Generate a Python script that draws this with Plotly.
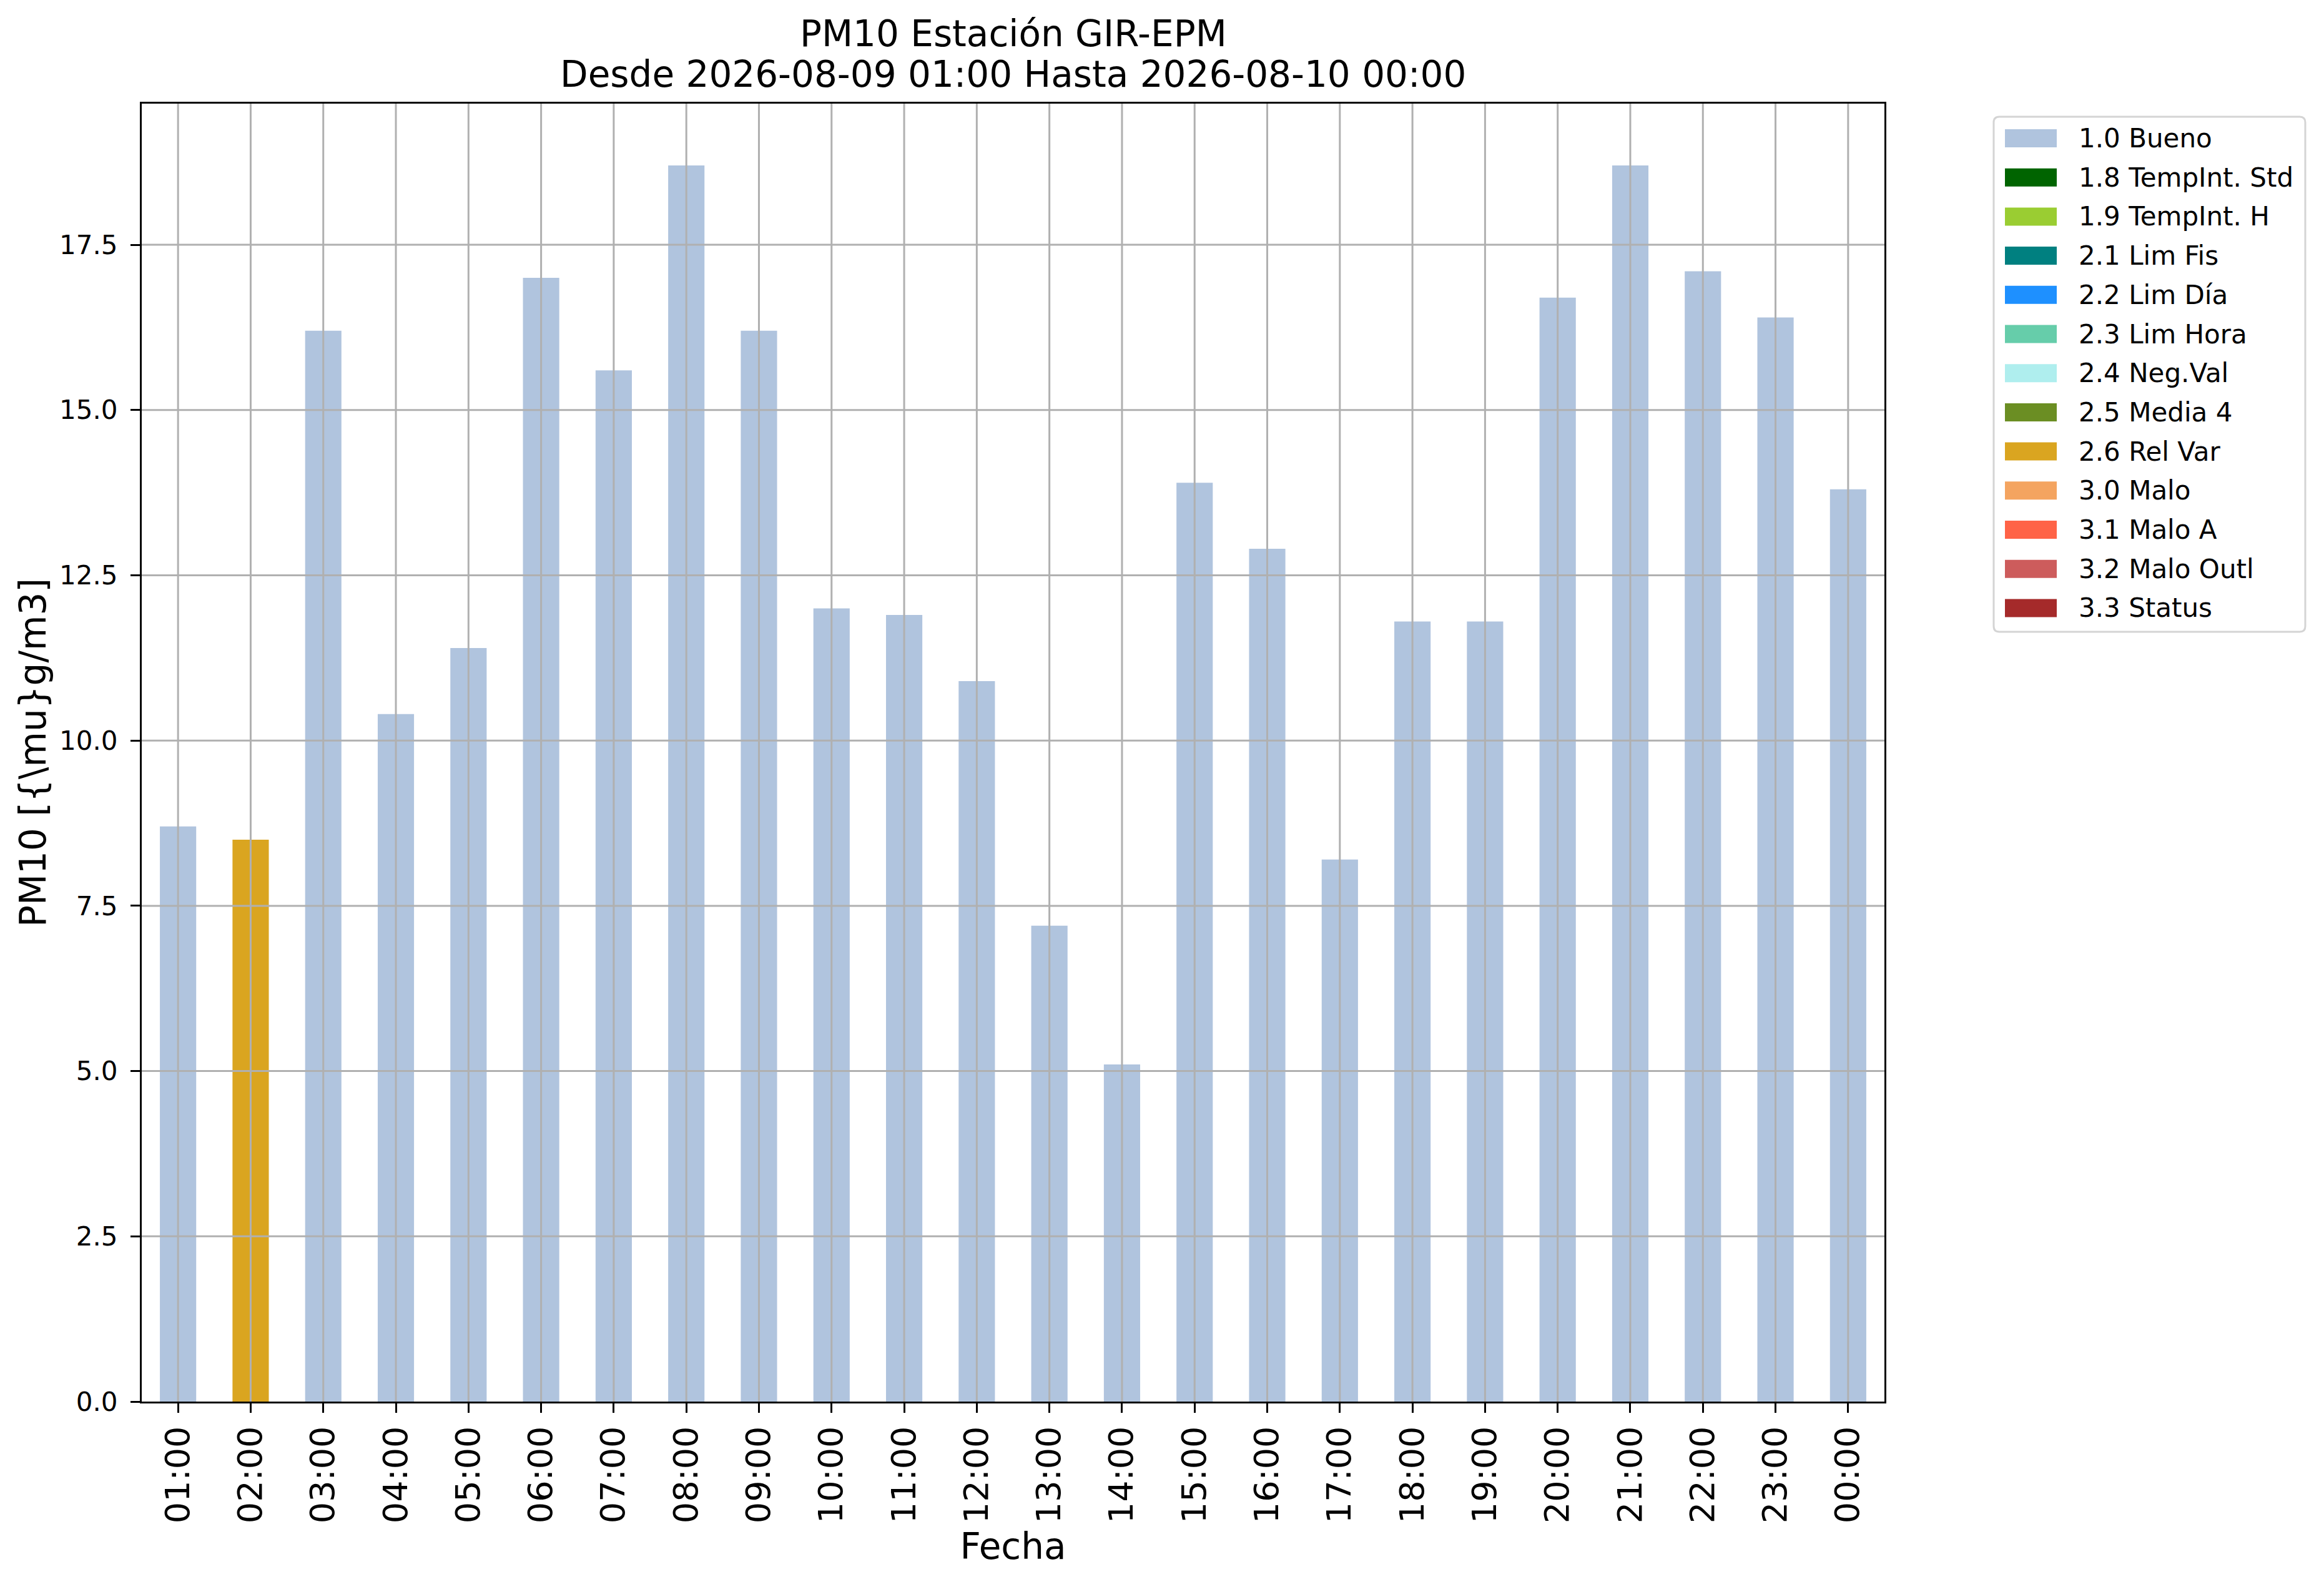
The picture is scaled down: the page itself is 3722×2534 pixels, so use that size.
import plotly.graph_objects as go

# datos PM10 horarios
horas = ["01:00", "02:00", "03:00", "04:00", "05:00", "06:00", "07:00", "08:00",
         "09:00", "10:00", "11:00", "12:00", "13:00", "14:00", "15:00", "16:00",
         "17:00", "18:00", "19:00", "20:00", "21:00", "22:00", "23:00", "00:00"]
pm10 = [8.7, 8.5, 16.2, 10.4, 11.4, 17.0, 15.6, 18.7, 16.2, 12.0, 11.9, 10.9,
        7.2, 5.1, 13.9, 12.9, 8.2, 11.8, 11.8, 16.7, 18.7, 17.1, 16.4, 13.8]
banderas = ["1.0", "2.6", "1.0", "1.0", "1.0", "1.0", "1.0", "1.0",
            "1.0", "1.0", "1.0", "1.0", "1.0", "1.0", "1.0", "1.0",
            "1.0", "1.0", "1.0", "1.0", "1.0", "1.0", "1.0", "1.0"]

# leyenda de banderas de calidad
codigos = ["1.0", "1.8", "1.9", "2.1", "2.2", "2.3", "2.4", "2.5", "2.6",
           "3.0", "3.1", "3.2", "3.3"]
etiquetas = ["1.0 Bueno", "1.8 TempInt. Std", "1.9 TempInt. H", "2.1 Lim Fis",
             "2.2 Lim Día", "2.3 Lim Hora", "2.4 Neg.Val", "2.5 Media 4",
             "2.6 Rel Var", "3.0 Malo", "3.1 Malo A", "3.2 Malo Outl", "3.3 Status"]
colores = ["#B0C4DE", "#006400", "#9ACD32", "#008080", "#1E90FF", "#66CDAA",
           "#AFEEEE", "#6B8E23", "#DAA520", "#F4A460", "#FF6347", "#CD5C5C",
           "#A52A2A"]

y_ticks = [0.0, 2.5, 5.0, 7.5, 10.0, 12.5, 15.0, 17.5]

W, H = 3722, 2534
L, R, T, B = 227, 3018, 166, 2245
FONT = "DejaVu Sans"
GRID = "#b0b0b0"


def px_x(px):
    return (px - L) / (R - L)


def px_y(py):
    return (B - py) / (B - T)


def caja_redondeada(x0, y0, x1, y1, r):
    # rectangulo con esquinas redondeadas, en pixeles -> coordenadas paper
    pts = [
        ("M", x0 + r, y0), ("L", x1 - r, y0), ("Q", x1, y0, x1, y0 + r),
        ("L", x1, y1 - r), ("Q", x1, y1, x1 - r, y1), ("L", x0 + r, y1),
        ("Q", x0, y1, x0, y1 - r), ("L", x0, y0 + r), ("Q", x0, y0, x0 + r, y0),
    ]
    partes = []
    for p in pts:
        cmd, coords = p[0], p[1:]
        xy = []
        for k in range(0, len(coords), 2):
            xy.append(f"{px_x(coords[k]):.5f},{px_y(coords[k + 1]):.5f}")
        partes.append(cmd + " ".join(xy))
    return " ".join(partes) + " Z"


color_de = dict(zip(codigos, colores))

fig = go.Figure()
fig.add_trace(go.Bar(
    x=horas, y=pm10, width=0.5,
    marker=dict(color=[color_de[b] for b in banderas], line=dict(width=0)),
    showlegend=False,
))

shapes = []
# rejilla encima de las barras, como en matplotlib
for h in horas:
    shapes.append(dict(type="line", xref="x", yref="paper", x0=h, x1=h, y0=0, y1=1,
                       line=dict(color=GRID, width=3), layer="above"))
for v in y_ticks[1:]:
    shapes.append(dict(type="line", xref="paper", yref="y", x0=0, x1=1, y0=v, y1=v,
                       line=dict(color=GRID, width=3), layer="above"))

# leyenda dibujada a mano
shapes.append(dict(type="path", xref="paper", yref="paper",
                   path=caja_redondeada(3193, 187, 3692, 1012, 9),
                   line=dict(color="#d4d4d4", width=3), fillcolor="white", layer="above"))
annotations = []
for i, (lab, col) in enumerate(zip(etiquetas, colores)):
    cy = 221.5 + i * 62.7
    shapes.append(dict(type="rect", xref="paper", yref="paper",
                       x0=px_x(3211), x1=px_x(3294), y0=px_y(cy + 14.5), y1=px_y(cy - 14.5),
                       line=dict(width=0), fillcolor=col, layer="above"))
    annotations.append(dict(text=lab, xref="paper", yref="paper", x=px_x(3327), y=px_y(cy),
                            xanchor="left", yanchor="middle", showarrow=False,
                            font=dict(family=FONT, size=42, color="black")))

annotations.append(dict(text="PM10 Estación GIR-EPM", xref="paper", yref="paper",
                        x=0.5, y=px_y(54), xanchor="center", yanchor="middle", showarrow=False,
                        font=dict(family=FONT, size=58, color="black")))
annotations.append(dict(text="Desde 2026-08-09 01:00 Hasta 2026-08-10 00:00", xref="paper",
                        yref="paper", x=0.5, y=px_y(119), xanchor="center", yanchor="middle",
                        showarrow=False, font=dict(family=FONT, size=58, color="black")))

fig.update_layout(
    width=W, height=H,
    margin=dict(l=L, r=W - R, t=T, b=H - B, pad=0),
    paper_bgcolor="white", plot_bgcolor="white",
    font=dict(family=FONT, color="black"),
    bargap=0.5,
    shapes=shapes,
    annotations=annotations,
    xaxis=dict(
        type="category", range=[-0.5, 23.5],
        showgrid=False, showline=True, mirror=True, linecolor="black", linewidth=3,
        ticks="outside", ticklen=15, tickwidth=3, tickcolor="black",
        tickangle=-90, tickfont=dict(size=54), ticklabelstandoff=0,
        title=dict(text="Fecha", font=dict(size=58), standoff=18),
    ),
    yaxis=dict(
        range=[0, 19.635], tickvals=y_ticks, tickformat=".1f",
        showgrid=False, zeroline=False, showline=True, mirror=True, linecolor="black",
        linewidth=3, ticks="outside", ticklen=15, tickwidth=3, tickcolor="black",
        tickfont=dict(size=42), ticklabelstandoff=12,
        title=dict(text="PM10 [{\\mu}g/m3]", font=dict(size=58), standoff=3),
    ),
)

fig.write_html("out.html", config={"displayModeBar": False},
               post_script="document.body.style.margin='0';")
